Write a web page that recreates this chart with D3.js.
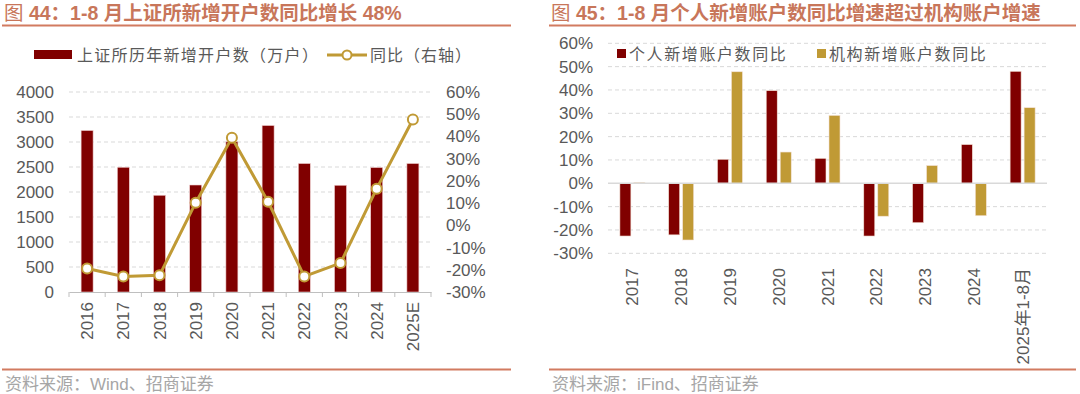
<!DOCTYPE html>
<html>
<head>
<meta charset="utf-8">
<script src="https://cdn.jsdelivr.net/npm/d3@7"></script>
<style>
  html, body { margin: 0; padding: 0; background: #fff; }
  svg { display: block; }
  text { font-family: "Liberation Sans", Arial, "Noto Sans CJK SC", sans-serif; }
  .cjk { font-family: "Liberation Sans", "Noto Sans CJK SC", sans-serif; }
</style>
</head>
<body>
<div id="chart"></div>
<script>
// ---- data: figure 44 ----
const years44 = ['2016', '2017', '2018', '2019', '2020', '2021', '2022', '2023', '2024', '2025E']
const accounts44 = [3230, 2495, 1935, 2140, 3005, 3330, 2570, 2135, 2490, 2570]
const yoy44 = [-19.4, -23.0, -22.5, 10.2, 39.4, 10.6, -23.0, -17.0, 16.5, 47.6]
const leftTicks44 = [0, 500, 1000, 1500, 2000, 2500, 3000, 3500, 4000]
const rightTicks44 = [-30, -20, -10, 0, 10, 20, 30, 40, 50, 60]

// ---- data: figure 45 ----
const years45 = ['2017', '2018', '2019', '2020', '2021', '2022', '2023', '2024', '2025年1-8月']
const personal45 = [-22.6, -22.1, 10.3, 39.7, 10.7, -22.6, -16.9, 16.6, 48.0]
const institution45 = [0.3, -24.3, 47.8, 13.4, 29.1, -14.1, 7.6, -13.9, 32.4]
const ticks45 = [-30, -20, -10, 0, 10, 20, 30, 40, 50, 60]

const RED = '#800000'
const GOLD = '#C09A35'
const TITLE_COLOR = '#C8765A'
const RULE_COLOR = '#D27B60'
const AXIS_TEXT = '#595959'
const GRID = '#D9D9D9'

const svg = d3.select('#chart').append('svg')
    .attr('width', 1080)
    .attr('height', 394)

// Title + rules around each panel
function frame(x0, x1, num, title, source) {
    const t = svg.append('text')
        .attr('class', 'cjk')
        .attr('x', x0 + 2)
        .attr('y', 20)
        .attr('font-size', 19.5)
        .attr('font-weight', 'bold')
        .attr('fill', TITLE_COLOR)
    t.append('tspan').attr('font-weight', 'normal').text('图 ')
    t.append('tspan').text(num + '：' + title)

    svg.append('line')
        .attr('x1', x0).attr('x2', x1)
        .attr('y1', 25.5).attr('y2', 25.5)
        .attr('stroke', RULE_COLOR).attr('stroke-width', 2)

    svg.append('line')
        .attr('x1', x0).attr('x2', x1)
        .attr('y1', 369.5).attr('y2', 369.5)
        .attr('stroke', RULE_COLOR).attr('stroke-width', 2)

    svg.append('text')
        .attr('class', 'cjk')
        .attr('x', x0 + 3)
        .attr('y', 390)
        .attr('font-size', 17)
        .attr('fill', '#A6A6A6')
        .text(source)
}

frame(2, 511, '44', '1-8 月上证所新增开户数同比增长 48%', '资料来源：Wind、招商证券')
frame(549, 1076, '45', '1-8 月个人新增账户数同比增速超过机构账户增速', '资料来源：iFind、招商证券')

// ---------------- Figure 44 ----------------
{
    const x = d3.scaleBand().domain(years44).range([69, 431])
    const y = d3.scaleLinear().domain([0, 4000]).range([292, 92])
    const y2 = d3.scaleLinear().domain([-30, 60]).range([292, 92])
    const g = svg.append('g')

    // gridlines
    g.selectAll('.grid')
        .data(leftTicks44.slice(1))
        .enter().append('line')
        .attr('x1', 69).attr('x2', 431)
        .attr('y1', d => y(d)).attr('y2', d => y(d))
        .attr('stroke', GRID)
        .attr('stroke-dasharray', '4,3')

    // bars
    const bw = 12
    g.selectAll('.bar')
        .data(accounts44)
        .enter().append('rect')
        .attr('x', (d, i) => x(years44[i]) + x.bandwidth() / 2 - bw / 2)
        .attr('y', d => y(d))
        .attr('width', bw)
        .attr('height', d => y(0) - y(d))
        .attr('fill', RED)
        .attr('stroke', '#f0d0d0')
        .attr('stroke-width', 0.6)

    // bottom axis
    const xAxis = g.append('g')
        .attr('transform', 'translate(0,292)')
        .call(d3.axisBottom(x).tickSize(0).tickFormat(''))
    xAxis.select('.domain').attr('stroke', '#BFBFBF')
    g.selectAll('.xtick')
        .data(years44.concat(['']))
        .enter().append('line')
        .attr('x1', (d, i) => 69 + i * x.step()).attr('x2', (d, i) => 69 + i * x.step())
        .attr('y1', 292).attr('y2', 297)
        .attr('stroke', '#BFBFBF')

    g.selectAll('.xlab')
        .data(years44)
        .enter().append('text')
        .attr('transform', d => `translate(${x(d) + x.bandwidth() / 2 + 6},302) rotate(-90)`)
        .attr('text-anchor', 'end')
        .attr('font-size', 17)
        .attr('fill', AXIS_TEXT)
        .text(d => d)

    // left axis labels
    g.selectAll('.ylab')
        .data(leftTicks44)
        .enter().append('text')
        .attr('x', 54)
        .attr('y', d => y(d) + 6)
        .attr('text-anchor', 'end')
        .attr('font-size', 17)
        .attr('fill', AXIS_TEXT)
        .text(d => d)

    // right axis labels
    g.selectAll('.y2lab')
        .data(rightTicks44)
        .enter().append('text')
        .attr('x', 446)
        .attr('y', d => y2(d) + 6)
        .attr('text-anchor', 'start')
        .attr('font-size', 17)
        .attr('fill', AXIS_TEXT)
        .text(d => d + '%')

    // yoy line
    const line = d3.line()
        .x((d, i) => x(years44[i]) + x.bandwidth() / 2)
        .y(d => y2(d))
    g.append('path')
        .datum(yoy44)
        .attr('d', line)
        .attr('fill', 'none')
        .attr('stroke', GOLD)
        .attr('stroke-width', 3)
    g.selectAll('.dot')
        .data(yoy44)
        .enter().append('circle')
        .attr('cx', (d, i) => x(years44[i]) + x.bandwidth() / 2)
        .attr('cy', d => y2(d))
        .attr('r', 5)
        .attr('fill', '#fff')
        .attr('stroke', GOLD)
        .attr('stroke-width', 2)

    // legend
    g.append('rect')
        .attr('x', 34).attr('y', 50)
        .attr('width', 38).attr('height', 9)
        .attr('fill', RED)
    g.append('text')
        .attr('class', 'cjk')
        .attr('x', 77).attr('y', 61)
        .attr('font-size', 16)
        .attr('letter-spacing', 1.3)
        .attr('fill', AXIS_TEXT)
        .text('上证所历年新增开户数（万户）')
    g.append('line')
        .attr('x1', 327).attr('x2', 367)
        .attr('y1', 55).attr('y2', 55)
        .attr('stroke', GOLD).attr('stroke-width', 3)
    g.append('circle')
        .attr('cx', 347).attr('cy', 55).attr('r', 4.5)
        .attr('fill', '#fff').attr('stroke', GOLD).attr('stroke-width', 2)
    g.append('text')
        .attr('class', 'cjk')
        .attr('x', 370).attr('y', 61)
        .attr('font-size', 16)
        .attr('letter-spacing', 1)
        .attr('fill', AXIS_TEXT)
        .text('同比（右轴）')
}

// ---------------- Figure 45 ----------------
{
    const x = d3.scaleBand().domain(years45).range([608, 1047])
    const y = d3.scaleLinear().domain([-30, 60]).range([253.3, 43.3])
    const g = svg.append('g')

    g.selectAll('.grid')
        .data(ticks45.filter(d => d !== 0))
        .enter().append('line')
        .attr('x1', 608).attr('x2', 1047)
        .attr('y1', d => y(d)).attr('y2', d => y(d))
        .attr('stroke', GRID)
        .attr('stroke-dasharray', '4,3')

    g.selectAll('.ylab')
        .data(ticks45)
        .enter().append('text')
        .attr('x', 593)
        .attr('y', d => y(d) + 6)
        .attr('text-anchor', 'end')
        .attr('font-size', 17)
        .attr('fill', AXIS_TEXT)
        .text(d => d + '%')

    const bw = 11
    const gap = 3
    const series = [
        { values: personal45, color: RED, offset: -(bw + gap) / 2 },
        { values: institution45, color: GOLD, offset: (bw + gap) / 2 }
    ]
    series.forEach(s => {
        g.selectAll(null)
            .data(s.values)
            .enter().append('rect')
            .attr('x', (d, i) => x(years45[i]) + x.bandwidth() / 2 + s.offset - bw / 2)
            .attr('y', d => y(Math.max(0, d)))
            .attr('width', bw)
            .attr('height', d => Math.abs(y(d) - y(0)))
            .attr('fill', s.color)
            .attr('stroke', '#f3e2d6')
            .attr('stroke-width', 0.6)
    })

    // zero line
    g.append('line')
        .attr('x1', 608).attr('x2', 1047)
        .attr('y1', y(0)).attr('y2', y(0))
        .attr('stroke', GRID).attr('stroke-width', 1.5)

    g.selectAll('.xlab')
        .data(years45)
        .enter().append('text')
        .attr('class', 'cjk')
        .attr('transform', d => `translate(${x(d) + x.bandwidth() / 2 + 6},268) rotate(-90)`)
        .attr('text-anchor', 'end')
        .attr('font-size', 17)
        .attr('fill', AXIS_TEXT)
        .text(d => d)

    // legend
    const legend = [
        { label: '个人新增账户数同比', color: RED, x: 617 },
        { label: '机构新增账户数同比', color: GOLD, x: 817 }
    ]
    legend.forEach(l => {
        g.append('rect')
            .attr('x', l.x).attr('y', 49)
            .attr('width', 9).attr('height', 9)
            .attr('fill', l.color)
        g.append('text')
            .attr('class', 'cjk')
            .attr('x', l.x + 12).attr('y', 60)
            .attr('font-size', 16)
            .attr('letter-spacing', 1.6)
            .attr('fill', AXIS_TEXT)
            .text(l.label)
    })
}
</script>
</body>
</html>
